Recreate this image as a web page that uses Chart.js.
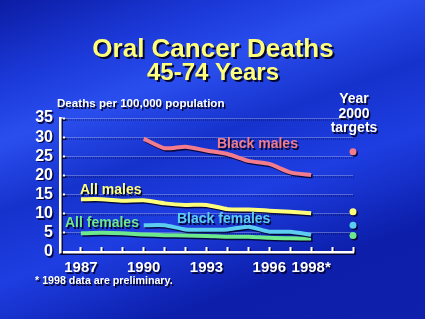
<!DOCTYPE html>
<html>
<head>
<meta charset="utf-8">
<script src="https://cdn.jsdelivr.net/npm/chart.js@4"></script>
<style>
  html, body { margin: 0; padding: 0; }
  body {
    width: 425px;
    height: 319px;
    overflow: hidden;
    background: linear-gradient(160deg, #0c1ca4 0%, #1c3ada 18%, #2a4eee 30%, #1632cc 45%, #1e3ee2 60%, #0c1eaa 80%, #0e20ac 100%);
  }
  #wrap { position: relative; width: 425px; height: 319px; }
</style>
</head>
<body>
<div id="wrap"><canvas id="chart" width="425" height="319"></canvas></div>
<script>
// Data
const years = [1987, 1988, 1989, 1990, 1991, 1992, 1993, 1994, 1995, 1996, 1997, 1998];
const yearsBlack = [1990, 1991, 1992, 1993, 1994, 1995, 1996, 1997, 1998];

const blackMales = [29.6, 27.1, 27.5, 26.5, 25.6, 23.8, 23.0, 20.8, 20.1];
const allMales = [13.8, 13.8, 13.4, 13.5, 12.7, 12.3, 12.3, 11.2, 11.1, 10.8, 10.5, 10.1];
const blackFemales = [7.0, 7.0, 5.9, 5.8, 5.9, 6.6, 5.3, 5.3, 4.5];
const allFemales = [4.9, 5.0, 4.9, 4.6, 4.4, 4.3, 4.2, 4.0, 4.0, 3.7, 3.6, 3.5];

// Year 2000 targets: black males, all males, black females, all females
const targetYear = 2000;
const targets = [26.2, 10.5, 7.0, 4.3];

const tickYears = [1987, 1988, 1989, 1990, 1991, 1992, 1993, 1994, 1995, 1996, 1997, 1998, 1999, 2000];
const tickLabels = { 1987: "1987", 1990: "1990", 1993: "1993", 1996: "1996", 1998: "1998*" };

const colors = {
  blackMales: "#f27c8c",
  allMales: "#ffff7a",
  blackFemales: "#5cccf0",
  allFemales: "#6ee88c",
};

const FONT = "'Liberation Sans', Arial, Helvetica, sans-serif";

function pts(xs, ys) {
  return ys.map((v, i) => ({ x: xs[i], y: v }));
}

function lineSet(label, xs, ys, color) {
  return {
    label: label,
    data: pts(xs, ys),
    borderColor: color,
    backgroundColor: color,
    borderWidth: 4,
    pointRadius: 0,
    tension: 0.2,
    borderCapStyle: "butt",
  };
}

function targetSet(label, value, color) {
  return {
    label: label,
    data: [{ x: targetYear, y: value }],
    showLine: false,
    pointRadius: 3.5,
    pointBorderWidth: 0,
    pointBackgroundColor: color,
    pointBorderColor: color,
    clip: false,
  };
}

// Shadow under everything, like the slide
const shadowPlugin = {
  id: "shadow",
  beforeDraw(chart) {
    const ctx = chart.ctx;
    ctx.shadowColor = "rgba(0,0,40,0.85)";
    ctx.shadowOffsetX = 1.5;
    ctx.shadowOffsetY = 1.5;
    ctx.shadowBlur = 0;
  },
};

// Slide texts
const textPlugin = {
  id: "slideText",
  afterDraw(chart) {
    const ctx = chart.ctx;
    ctx.save();
    ctx.shadowColor = "rgba(0,0,30,0.9)";
    ctx.shadowOffsetX = 2;
    ctx.shadowOffsetY = 2;
    ctx.shadowBlur = 0;

    function txt(s, x, y, size, color, align) {
      ctx.font = "bold " + size + "px " + FONT;
      ctx.fillStyle = color;
      ctx.textAlign = align || "left";
      ctx.textBaseline = "alphabetic";
      ctx.fillText(s, x, y);
    }

    // Title
    txt("Oral Cancer Deaths", 213, 57, 26, "#ffff7a", "center");
    txt("45-74 Years", 213, 80, 24, "#ffff7a", "center");

    ctx.shadowOffsetX = 1.5;
    ctx.shadowOffsetY = 1.5;

    // Axis title and target heading
    txt("Deaths per 100,000 population", 57, 107, 11.6, "#ffffff");
    txt("Year", 354, 103, 14, "#ffffff", "center");
    txt("2000", 354, 118, 14, "#ffffff", "center");
    txt("targets", 354, 132, 14, "#ffffff", "center");

    // Series labels
    txt("Black males", 217, 148, 14, colors.blackMales);
    txt("All males", 80, 194, 14, colors.allMales);
    txt("All females", 65, 227, 14, colors.allFemales);
    txt("Black females", 177, 223, 14, colors.blackFemales);

    // Footnote
    txt("* 1998 data are preliminary.", 35, 284, 10.7, "#ffffff");
    ctx.restore();

    // reset the global shadow
    ctx.shadowColor = "transparent";
  },
};

new Chart(document.getElementById("chart"), {
  type: "line",
  data: {
    datasets: [
      lineSet("Black males", yearsBlack, blackMales, colors.blackMales),
      lineSet("All males", years, allMales, colors.allMales),
      lineSet("Black females", yearsBlack, blackFemales, colors.blackFemales),
      lineSet("All females", years, allFemales, colors.allFemales),
      targetSet("Black males target", targets[0], colors.blackMales),
      targetSet("All males target", targets[1], colors.allMales),
      targetSet("Black females target", targets[2], colors.blackFemales),
      targetSet("All females target", targets[3], colors.allFemales),
    ],
  },
  options: {
    responsive: false,
    animation: false,
    layout: {
      padding: { left: 0, right: 72, top: 118, bottom: 45 },
    },
    plugins: {
      legend: { display: false },
      tooltip: { enabled: false },
      title: { display: false },
    },
    scales: {
      x: {
        type: "linear",
        min: 1986,
        max: 2000,
        afterBuildTicks: (scale) => {
          scale.ticks = tickYears.map((v) => ({ value: v }));
        },
        afterFit: (scale) => {
          scale.height = 22;
        },
        grid: {
          drawOnChartArea: false,
          drawTicks: true,
          tickLength: -5,
          tickColor: "#ffffff",
          tickWidth: 2,
        },
        border: { display: true, color: "#ffffff", width: 2.5 },
        ticks: {
          autoSkip: false,
          maxRotation: 0,
          padding: 12,
          color: "#ffffff",
          font: { family: FONT, size: 15, weight: "bold" },
          callback: (v) => tickLabels[v] || "",
        },
      },
      y: {
        min: 0,
        max: 35,
        afterFit: (scale) => {
          scale.width = 60;
        },
        grid: {
          color: "rgba(200,210,240,0.7)",
          lineWidth: 1,
          drawTicks: true,
          tickLength: -5,
          tickColor: "#ffffff",
          tickWidth: 2,
          tickBorderDash: [],
        },
        border: { display: true, color: "#ffffff", width: 2.5, dash: [1, 1] },
        ticks: {
          autoSkip: false,
          stepSize: 5,
          padding: 12,
          color: "#ffffff",
          font: { family: FONT, size: 16, weight: "bold" },
        },
      },
    },
  },
  plugins: [shadowPlugin, textPlugin],
});
</script>
</body>
</html>
